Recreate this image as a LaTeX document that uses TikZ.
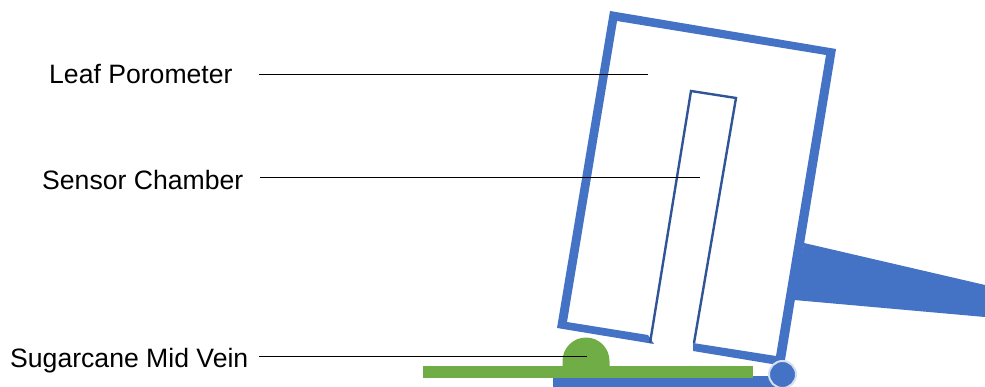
\documentclass[tikz,border=0pt]{standalone}
\usepackage{fontspec}
\setmainfont{Liberation Sans}
\definecolor{frameblue}{HTML}{4472C4}
\definecolor{sensorblue}{HTML}{2F5597}
\definecolor{leafgreen}{HTML}{70AD47}
\definecolor{pivotedge}{HTML}{D5DFF2}
\tikzset{
  solidblue/.style={fill=frameblue,draw=none},
  solidgreen/.style={fill=leafgreen,draw=none},
  sensorline/.style={draw=sensorblue,line width=2.4pt,line join=miter},
  leader/.style={draw=black,line width=0.8pt},
  lbl/.style={font=\fontsize{26.6}{30}\selectfont,text=black,inner sep=0pt,anchor=base west}
}
\begin{document}
\begin{tikzpicture}[x=1pt,y=-1pt]
\useasboundingbox (0,0) rectangle (985,387);
% frame body
\fill[solidblue] (654,344) -- (557,328) -- (610,11) -- (836,49) -- (784,366) -- (693,351) -- (693,343) -- (776,356) -- (826,55) -- (617,21) -- (567,322) -- (648,335) -- cycle;
% handle
\fill[solidblue] (804,243) -- (985,285) -- (985,317) -- (794,300) -- cycle;
% sensor chamber
\draw[sensorline] (650,343) -- (691,91) -- (736,98) -- (694,343);
% base
\fill[solidblue] (553,376) rectangle (778,387);
\fill[solidgreen] (562.5,361) arc[start angle=180,end angle=360,radius=23.5] -- (609.5,370) -- (562.5,370) -- cycle;
\fill[solidgreen] (423,366) rectangle (753,378);
% pivot
\node[circle,fill=frameblue,draw=pivotedge,line width=2pt,minimum size=27pt,inner sep=0pt] (pivot) at (782.5,374.5) {};
% labels
\node[lbl] (leaf) at (49,84) {Leaf Porometer};
\node[lbl] (sensor) at (42,190) {Sensor Chamber};
\node[lbl] (vein) at (10,367) {Sugarcane Mid Vein};
\coordinate (leafEnd) at (648,74);
\coordinate (sensorEnd) at (700,177);
\coordinate (veinEnd) at (587,356);
\draw[leader,shorten <=26pt] (leaf.east |- leafEnd) -- (leafEnd);
\draw[leader,shorten <=17pt] (sensor.east |- sensorEnd) -- (sensorEnd);
\draw[leader,shorten <=11pt] (vein.east |- veinEnd) -- (veinEnd);
\end{tikzpicture}
\end{document}
